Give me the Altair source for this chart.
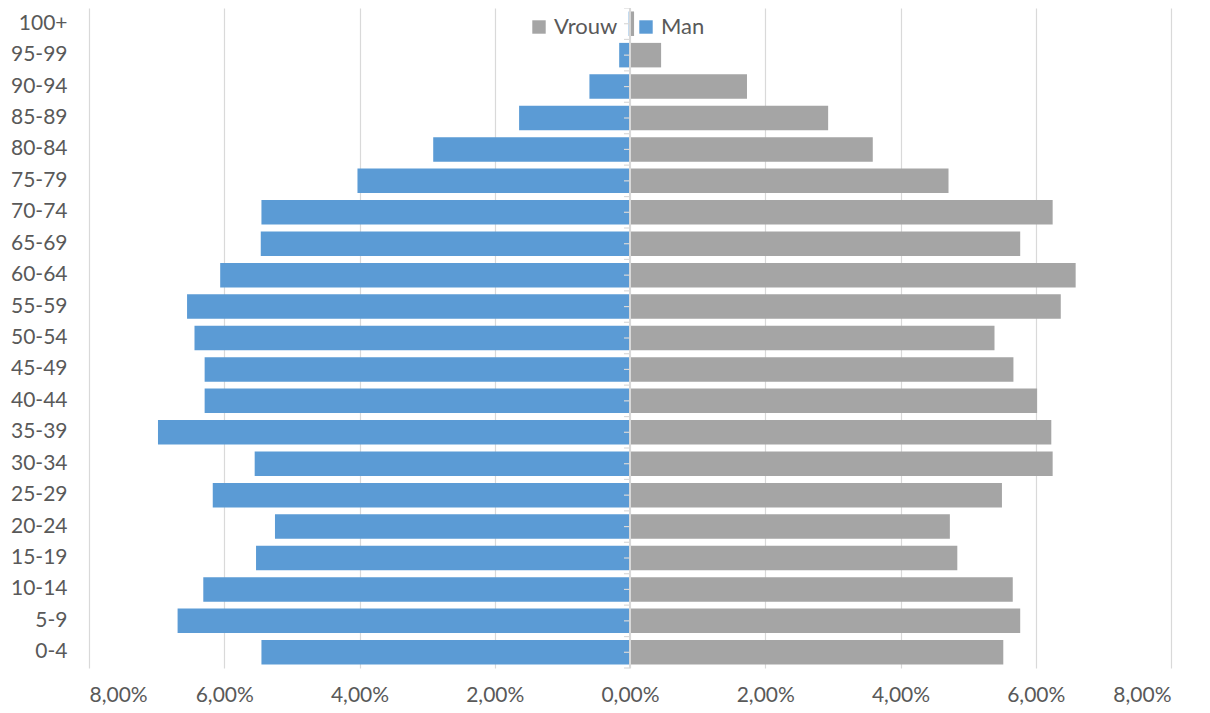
import altair as alt
import pandas as pd

ages = ["0-4", "5-9", "10-14", "15-19", "20-24", "25-29", "30-34", "35-39",
        "40-44", "45-49", "50-54", "55-59", "60-64", "65-69", "70-74", "75-79",
        "80-84", "85-89", "90-94", "95-99", "100+"]
man = [5.45, 6.69, 6.31, 5.53, 5.25, 6.17, 5.55, 6.98, 6.29, 6.29, 6.44,
       6.55, 6.06, 5.46, 5.45, 4.03, 2.91, 1.64, 0.60, 0.16, 0.02]
vrouw = [5.52, 5.77, 5.66, 4.84, 4.73, 5.50, 6.25, 6.23, 6.02, 5.67, 5.39,
         6.37, 6.59, 5.77, 6.25, 4.71, 3.59, 2.93, 1.73, 0.46, 0.06]
series = ["Vrouw", "Man"]
colors = ["#A5A5A5", "#5B9BD5"]
x_ticks = [-8, -6, -4, -2, 0, 2, 4, 6, 8]

rows = []
for a, m, v in zip(ages, man, vrouw):
    rows.append({"age": a, "geslacht": "Man", "pct": -m})
    rows.append({"age": a, "geslacht": "Vrouw", "pct": v})
df = pd.DataFrame(rows)
cats = pd.DataFrame({"age": ages})

order = list(reversed(ages))
W, H = 1082, 660
PI = 0.22
step = H / len(ages)
FONT = "Lato"
TXT = "#595959"
GRID = "#D9D9D9"

yscale = alt.Scale(domain=order, paddingInner=PI, paddingOuter=PI / 2)
xscale = alt.Scale(domain=[-8, 8], nice=False)

bars = alt.Chart(df).mark_bar().encode(
    y=alt.Y("age:N", sort=order, scale=yscale,
            axis=alt.Axis(title=None, ticks=False, domain=False, grid=False,
                          labelPadding=22, labelFontSize=21, labelColor=TXT,
                          labelFont=FONT)),
    x=alt.X("pct:Q", stack=None, scale=xscale,
            axis=alt.Axis(title=None, values=x_ticks, ticks=False, domain=False,
                          grid=True, gridColor=GRID, gridWidth=1.2,
                          labelFontSize=21, labelColor=TXT, labelFont=FONT,
                          labelPadding=16,
                          labelExpr="replace(format(abs(datum.value), '.2f'), '.', ',') + '%'")),
    color=alt.Color("geslacht:N", scale=alt.Scale(domain=series, range=colors),
                    legend=alt.Legend(title=None, orient="none", direction="horizontal",
                                      legendX=439, legendY=8, padding=0,
                                      symbolType="square", symbolSize=180,
                                      symbolStrokeWidth=0, labelFontSize=22,
                                      labelColor=TXT, labelFont=FONT,
                                      labelOffset=4, columnPadding=17)),
)

zero = alt.Chart(cats).mark_rule(color=GRID, strokeWidth=1.2).encode(x=alt.datum(0, scale=xscale))

tick_center = alt.Chart(cats).mark_rule(color=GRID, strokeWidth=1.2, xOffset=-6).encode(
    y=alt.Y("age:N", sort=order, scale=yscale, bandPosition=0.5),
    x=alt.datum(0, scale=xscale), x2=alt.datum(0),
)
tick_edge = alt.Chart(cats).mark_rule(color=GRID, strokeWidth=1.2, xOffset=-6,
                                      yOffset=-PI * step / 2).encode(
    y=alt.Y("age:N", sort=order, scale=yscale, bandPosition=0),
    x=alt.datum(0, scale=xscale), x2=alt.datum(0),
)
tick_bottom = alt.Chart(pd.DataFrame({"age": [ages[0]]})).mark_rule(
    color=GRID, strokeWidth=1.2, xOffset=-6, yOffset=PI * step / 2).encode(
    y=alt.Y("age:N", sort=order, scale=yscale, bandPosition=1),
    x=alt.datum(0, scale=xscale), x2=alt.datum(0),
)

chart = alt.layer(bars, zero, tick_center, tick_edge, tick_bottom).properties(
    width=W, height=H,
    background="white",
    autosize=alt.AutoSizeParams(type="none"),
    padding={"left": 81, "top": 0, "right": 31, "bottom": 37},
).configure_view(strokeWidth=0, strokeOpacity=0)

chart.save("out.html", embed_options={"renderer": "svg", "actions": False})
